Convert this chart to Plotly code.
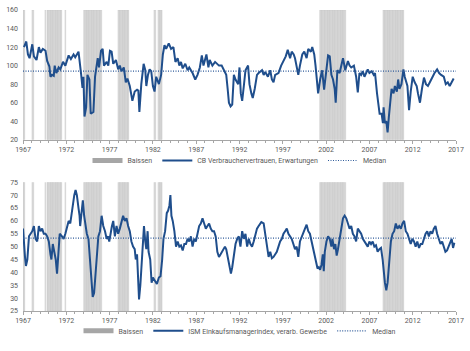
import numpy as np
import plotly.graph_objects as go

# ---------------- data ----------------
cb_years = [1967.11, 1967.38, 1967.57, 1967.76, 1968.07, 1968.26, 1968.56, 1968.83, 1969.02, 1969.29,
            1969.60, 1969.79, 1970.05, 1970.17, 1970.36, 1970.55, 1970.66, 1970.85, 1971.12, 1971.31,
            1971.62, 1971.89, 1972.27, 1972.53, 1972.84, 1973.03, 1973.41, 1973.60, 1973.72, 1973.87,
            1973.98, 1974.10, 1974.29, 1974.44, 1974.67, 1974.82, 1975.13, 1975.32, 1975.63, 1975.78,
            1976.01, 1976.20, 1976.35, 1976.66, 1976.85, 1977.04, 1977.23, 1977.42, 1977.73, 1977.99,
            1978.18, 1978.37, 1978.64, 1978.87, 1979.06, 1979.33, 1979.52, 1979.63, 1979.90, 1980.17,
            1980.32, 1980.44, 1980.66, 1980.93, 1981.12, 1981.24, 1981.43, 1981.62, 1981.81, 1982.00,
            1982.19, 1982.38, 1982.69, 1982.95, 1983.15, 1983.34, 1983.53, 1983.83, 1984.10, 1984.37,
            1984.60, 1984.86, 1985.05, 1985.24, 1985.44, 1985.74, 1986.01, 1986.20, 1986.58, 1986.89,
            1987.15, 1987.42, 1987.65, 1987.84, 1988.18, 1988.41, 1988.56, 1988.87, 1989.18, 1989.44,
            1989.63, 1989.94, 1990.21, 1990.47, 1990.63, 1990.78, 1990.97, 1991.16, 1991.35, 1991.54,
            1991.85, 1992.00, 1992.15, 1992.31, 1992.50, 1992.69, 1992.99, 1993.15, 1993.37, 1993.53,
            1993.76, 1994.02, 1994.21, 1994.60, 1994.79, 1994.98, 1995.28, 1995.55, 1995.74, 1995.93,
            1996.12, 1996.50, 1996.81, 1997.08, 1997.34, 1997.57, 1997.84, 1998.03, 1998.26, 1998.41,
            1998.60, 1998.79, 1998.98, 1999.25, 1999.48, 1999.75, 1999.94, 2000.24, 2000.40, 2000.63,
            2000.78, 2000.93, 2001.08, 2001.31, 2001.54, 2001.77, 2001.92, 2002.23, 2002.42, 2002.61,
            2002.80, 2002.99, 2003.11, 2003.30, 2003.56, 2003.76, 2003.95, 2004.21, 2004.52, 2004.71,
            2004.90, 2005.21, 2005.47, 2005.66, 2005.85, 2006.05, 2006.24, 2006.43, 2006.81, 2007.00,
            2007.27, 2007.50, 2007.65, 2007.88, 2008.03, 2008.18, 2008.41, 2008.56, 2008.64, 2008.79,
            2008.95, 2009.10, 2009.25, 2009.40, 2009.56, 2009.79, 2009.94, 2010.17, 2010.32, 2010.47,
            2010.70, 2010.93, 2011.08, 2011.39, 2011.58, 2011.77, 2012.00, 2012.23, 2012.46, 2012.61,
            2012.84, 2013.07, 2013.30, 2013.53, 2013.76, 2013.98, 2014.25, 2014.52, 2014.82, 2015.05,
            2015.28, 2015.59, 2015.82, 2016.05, 2016.27, 2016.50, 2016.73]
cb_values = [120, 126, 112, 108, 123, 110, 106, 120, 114, 118,
             116, 105, 99, 88, 90, 89, 100, 92, 98, 96,
             104, 100, 111, 107, 112, 109, 115, 95, 90, 76,
             88, 45, 55, 90, 85, 48, 50, 88, 108, 98,
             116, 118, 100, 104, 100, 116, 115, 102, 106, 96,
             100, 94, 98, 82, 86, 78, 68, 62, 72, 74,
             73, 50, 80, 102, 95, 78, 90, 96, 94, 78,
             72, 88, 80, 90, 112, 122, 118, 124, 118, 120,
             104, 108, 100, 104, 97, 102, 95, 98, 92, 85,
             90, 98, 111, 100, 112, 98, 106, 100, 104, 102,
             100, 100, 95, 90, 75, 60, 56, 58, 90, 85,
             80, 98, 70, 62, 78, 95, 100, 80, 70, 65,
             75, 90, 92, 95, 90, 93, 88, 95, 85, 82,
             90, 92, 100, 105, 110, 117, 108, 115, 112, 108,
             100, 90, 100, 112, 115, 108, 118, 115, 120, 112,
             100, 80, 70, 85, 95, 74, 85, 111, 110, 90,
             85, 75, 60, 95, 92, 100, 108, 95, 105, 100,
             98, 100, 88, 71, 92, 90, 94, 88, 96, 92,
             94, 90, 92, 70, 55, 48, 48, 38, 55, 38,
             40, 28, 45, 65, 75, 70, 78, 72, 85, 75,
             80, 96, 88, 78, 52, 72, 88, 82, 78, 70,
             60, 75, 87, 80, 78, 82, 88, 92, 96, 92,
             90, 88, 80, 82, 78, 82, 86]

ism_years = [1967.00, 1967.11, 1967.23, 1967.34, 1967.50, 1967.69, 1967.88, 1968.07, 1968.26, 1968.45,
             1968.64, 1968.83, 1969.02, 1969.21, 1969.40, 1969.60, 1969.79, 1969.98, 1970.17, 1970.28,
             1970.44, 1970.63, 1970.78, 1970.93, 1971.12, 1971.24, 1971.50, 1971.69, 1971.89, 1972.08,
             1972.27, 1972.46, 1972.57, 1972.76, 1972.92, 1973.07, 1973.22, 1973.41, 1973.53, 1973.60,
             1973.76, 1973.91, 1974.06, 1974.21, 1974.37, 1974.56, 1974.67, 1974.82, 1974.98, 1975.05,
             1975.21, 1975.36, 1975.51, 1975.70, 1975.89, 1976.08, 1976.27, 1976.47, 1976.66, 1976.85,
             1976.96, 1977.11, 1977.27, 1977.42, 1977.61, 1977.80, 1977.99, 1978.18, 1978.37, 1978.56,
             1978.76, 1978.95, 1979.14, 1979.33, 1979.52, 1979.71, 1979.90, 1980.02, 1980.17, 1980.28,
             1980.40, 1980.55, 1980.70, 1980.85, 1980.97, 1981.12, 1981.24, 1981.39, 1981.50, 1981.69,
             1981.85, 1982.00, 1982.19, 1982.46, 1982.69, 1982.88, 1983.07, 1983.22, 1983.41, 1983.60,
             1983.76, 1983.91, 1984.02, 1984.14, 1984.29, 1984.48, 1984.67, 1984.86, 1985.05, 1985.24,
             1985.44, 1985.63, 1985.82, 1986.01, 1986.20, 1986.39, 1986.58, 1986.77, 1986.96, 1987.15,
             1987.34, 1987.53, 1987.73, 1987.92, 1988.11, 1988.30, 1988.49, 1988.68, 1988.87, 1989.06,
             1989.25, 1989.44, 1989.63, 1989.82, 1990.09, 1990.32, 1990.47, 1990.70, 1990.85, 1991.01,
             1991.16, 1991.35, 1991.54, 1991.73, 1991.92, 1992.11, 1992.31, 1992.50, 1992.69, 1992.88,
             1993.07, 1993.26, 1993.45, 1993.64, 1993.83, 1994.02, 1994.21, 1994.52, 1994.79, 1994.98,
             1995.17, 1995.36, 1995.55, 1995.74, 1995.93, 1996.12, 1996.31, 1996.50, 1996.69, 1996.89,
             1997.08, 1997.27, 1997.46, 1997.65, 1997.84, 1998.03, 1998.22, 1998.41, 1998.60, 1998.79,
             1998.98, 1999.18, 1999.37, 1999.56, 1999.75, 1999.94, 2000.13, 2000.32, 2000.51, 2000.70,
             2000.89, 2001.01, 2001.16, 2001.31, 2001.47, 2001.62, 2001.73, 2001.85, 2002.04, 2002.23,
             2002.42, 2002.61, 2002.73, 2002.92, 2003.07, 2003.22, 2003.37, 2003.56, 2003.76, 2003.95,
             2004.14, 2004.33, 2004.52, 2004.71, 2004.90, 2005.09, 2005.28, 2005.47, 2005.66, 2005.85,
             2006.05, 2006.24, 2006.43, 2006.62, 2006.81, 2007.00, 2007.19, 2007.38, 2007.57, 2007.76,
             2007.95, 2008.15, 2008.34, 2008.53, 2008.64, 2008.79, 2008.95, 2009.10, 2009.29, 2009.48,
             2009.67, 2009.86, 2010.05, 2010.24, 2010.44, 2010.63, 2010.82, 2011.01, 2011.20, 2011.39,
             2011.58, 2011.77, 2011.96, 2012.15, 2012.34, 2012.53, 2012.73, 2012.92, 2013.11, 2013.30,
             2013.49, 2013.68, 2013.87, 2014.06, 2014.25, 2014.44, 2014.63, 2014.82, 2015.02, 2015.21,
             2015.40, 2015.59, 2015.78, 2015.97, 2016.16, 2016.35, 2016.50, 2016.66, 2016.81]
ism_values = [57, 50, 46, 42.5, 45, 54, 55, 56, 58, 53,
              52, 58, 56, 57, 55, 55, 54, 52, 47, 45,
              51, 48, 45, 39.5, 48, 55, 54, 53, 55, 58,
              60, 59, 62, 66, 70, 72, 70, 65, 62, 58,
              64, 68, 62, 58, 55, 53, 48, 42, 35, 30.5,
              32, 40, 47, 54, 56, 62, 58, 56, 53, 54,
              52, 56, 58, 60, 54, 58, 55, 57, 60, 62,
              60, 61, 58, 56, 52, 50, 49, 45, 47, 38,
              29.5, 35, 45, 54, 58, 52, 49, 56, 48, 45,
              36, 38, 37, 35.5, 38, 38.5, 45, 53, 56, 63,
              64, 66, 70, 62, 60, 56, 50, 52, 50, 50.5,
              48.5, 51, 51, 53, 52, 54, 50, 53, 52, 55,
              58, 59, 61, 59, 57, 58, 59, 57, 56, 56,
              54, 48, 46, 47, 49, 50, 49, 45, 42, 39.5,
              42, 47, 51, 53, 54, 50, 56, 53, 55, 50,
              53, 51, 50, 52, 55, 57, 58, 59.5, 59, 55,
              50, 46, 48, 45.5, 46, 47, 48, 50, 52, 53,
              55, 56, 57, 55, 54, 53, 51, 49, 50, 46,
              52, 54, 56, 57, 58.5, 56, 55, 52, 49, 47,
              43, 41.5, 42, 41, 43, 47, 40.5, 48, 52, 54,
              53, 50, 53, 49, 51, 46.5, 49, 53, 57, 61,
              62, 61, 59, 57, 58, 55, 54, 52, 57, 56,
              55, 53, 52, 51, 50, 52, 51, 52, 50, 50.5,
              48, 49, 49.5, 45, 40, 36, 33, 36, 44, 52,
              55, 56, 59, 57, 58, 57, 59, 60, 56, 55,
              53, 51, 53, 52, 50, 52, 49.5, 51, 51, 53,
              55, 56, 54, 56, 55, 57, 58, 55, 53, 51,
              52, 50, 48, 48.5, 50, 52, 53, 49.5, 51.5]

cb_median = 94
ism_median = 53.3

bear_starts = [1967.0, 1968.07, 1969.53, 1969.76, 1971.83, 1974.0, 1978.0, 1982.17, 1982.6, 2001.25, 2008.6]
bear_ends   = [1967.2, 1968.23, 1969.6, 1971.45, 1971.9, 1976.08, 1979.2, 1982.29, 1983.06, 2004.2, 2010.94]

x_start, x_end = 1967, 2017
year_ticks = list(range(1967, 2018, 5))
cb_range = [20, 160]
ism_range = [25, 75]

# monthly bear-market months
bear_months = []
for s, e in zip(bear_starts, bear_ends):
    m = s
    while m <= e + 1e-9:
        bear_months.append(m + 1 / 24)
        m += 1 / 12
bear_months = np.array(bear_months)

BLUE = '#1f4e8c'
MED = '#2f5b9a'
GREY_BAR = '#dcdcdc'
FONT = 'Roboto'
TXT = '#595959'

fig = go.Figure()


def add_panel(xref, yref, years, values, median, yr, name, legend):
    fig.add_trace(go.Bar(x=bear_months, y=[yr[1] - yr[0]] * len(bear_months), base=yr[0],
                         width=1 / 12, marker=dict(color=GREY_BAR, line=dict(width=0.25, color='#bdbdbd')),
                         xaxis=xref, yaxis=yref, showlegend=False, hoverinfo='skip'))
    fig.add_trace(go.Scatter(x=[None], y=[None], mode='lines', name='Baissen',
                             line=dict(color='#a6a6a6', width=5), xaxis=xref, yaxis=yref, legend=legend))
    fig.add_trace(go.Scatter(x=years, y=values, mode='lines', name=name,
                             line=dict(color=BLUE, width=2), xaxis=xref, yaxis=yref, legend=legend))
    fig.add_trace(go.Scatter(x=[x_start, x_end], y=[median, median], mode='lines', name='Median',
                             line=dict(color=MED, width=1.2, dash='1px,1.5px'), xaxis=xref, yaxis=yref,
                             legend=legend))


add_panel('x', 'y', cb_years, cb_values, cb_median, cb_range,
          'CB Verbrauchervertrauen, Erwartungen', 'legend')
add_panel('x2', 'y2', ism_years, ism_values, ism_median, ism_range,
          'ISM Einkaufsmanagerindex, verarb. Gewerbe', 'legend2')

xcommon = dict(range=[x_start, x_end], tickvals=year_ticks, showgrid=False, zeroline=False,
               showline=True, linecolor='#a6a6a6', linewidth=1, ticks='outside', ticklen=3,
               tickcolor='#a6a6a6', tickfont=dict(size=7, color=TXT, family=FONT),
               minor=dict(dtick=1, tick0=1967, ticks='outside', ticklen=2, tickcolor='#a6a6a6'))
ycommon = dict(showgrid=False, zeroline=False, showline=False, ticks='',
               tickfont=dict(size=7, color=TXT, family=FONT), ticklabelstandoff=4)

fig.update_layout(
    width=470, height=351,
    margin=dict(l=22, r=13, t=6, b=27),
    paper_bgcolor='white', plot_bgcolor='white',
    bargap=0,
    font=dict(family=FONT, size=7, color=TXT),
    xaxis=dict(domain=[0, 1], anchor='y', **xcommon),
    yaxis=dict(domain=[0.569, 1], range=cb_range, dtick=20, **ycommon),
    xaxis2=dict(domain=[0, 1], anchor='y2', **xcommon),
    yaxis2=dict(domain=[0, 0.4277], range=ism_range, dtick=5, **ycommon),
    legend=dict(orientation='h', x=0.5, xanchor='center', y=0.5, yanchor='middle',
                font=dict(size=7, color=TXT, family=FONT), bgcolor='rgba(0,0,0,0)',
                itemwidth=30, tracegroupgap=0),
    legend2=dict(orientation='h', x=0.5, xanchor='center', y=-0.066, yanchor='middle',
                 font=dict(size=7, color=TXT, family=FONT), bgcolor='rgba(0,0,0,0)',
                 itemwidth=30, tracegroupgap=0),
    showlegend=True,
)

fig.write_html("out.html")
